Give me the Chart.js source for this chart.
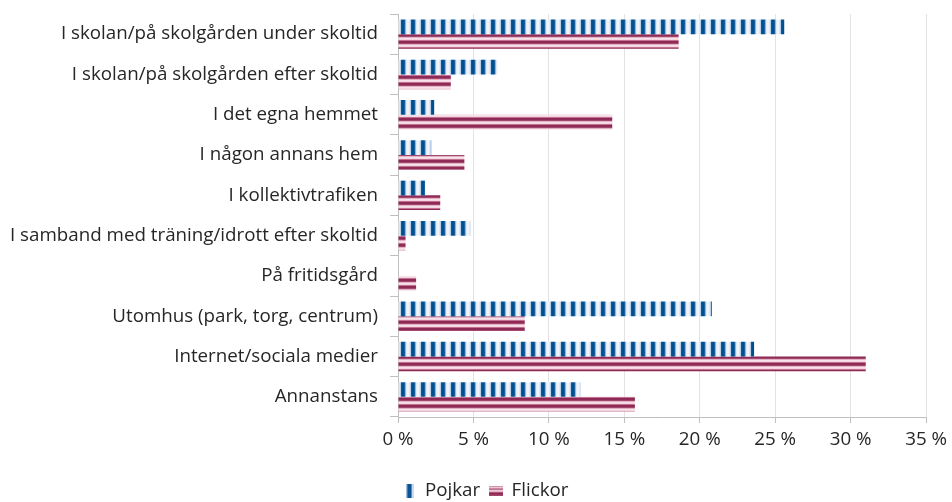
<!DOCTYPE html>
<html>
<head>
<meta charset="utf-8">
<script src="https://cdn.jsdelivr.net/npm/chart.js@4"></script>
<style>
  body { margin: 0; background: #fff; }
</style>
</head>
<body>
<canvas id="chartPlatser" width="952" height="502"></canvas>
<script>
const categories = [
    'I skolan/på skolgården under skoltid',
    'I skolan/på skolgården efter skoltid',
    'I det egna hemmet',
    'I någon annans hem',
    'I kollektivtrafiken',
    'I samband med träning/idrott efter skoltid',
    'På fritidsgård',
    'Utomhus (park, torg, centrum)',
    'Internet/sociala medier',
    'Annanstans'
];
const pojkar = [25.6, 6.6, 2.4, 2.2, 1.8, 4.8, 0, 20.8, 23.6, 12.1];
const flickor = [18.6, 3.5, 14.2, 4.4, 2.8, 0.5, 1.2, 8.4, 31.0, 15.7];
const seriesNames = ['Pojkar', 'Flickor'];

// small canvases used as fill patterns
const makeCanvas = (w, h, draw) => {
    const c = document.createElement('canvas');
    c.width = w;
    c.height = h;
    draw(c.getContext('2d'));
    return c;
};

const blueCols = ['#b9d0e8', '#0d5798', '#00508f', '#00508f', '#1c62a0', '#8fb2d6', '#e1ebf6', '#eef4fa', '#eef4fa', '#dde8f4'];
const pinkRows = ['#8e2a55', '#a2476d', '#e2b0c3', '#f6e2ea', '#f3d6e1', '#c27090', '#8e2a55'];

const blueTile = makeCanvas(blueCols.length, 4, ctx => {
    blueCols.forEach((c, i) => { ctx.fillStyle = c; ctx.fillRect(i, 0, 1, 4); });
});
const pinkTile = makeCanvas(4, pinkRows.length, ctx => {
    pinkRows.forEach((c, i) => { ctx.fillStyle = c; ctx.fillRect(0, i, 4, 1); });
});

const context = document.getElementById('chartPlatser').getContext('2d');
const bluePattern = context.createPattern(blueTile, 'repeat');
const pinkPattern = context.createPattern(pinkTile, 'repeat');

// legend markers
const blueMarker = makeCanvas(8, 14, ctx => {
    ctx.fillStyle = '#c9dbee'; ctx.fillRect(0, 0, 8, 14);
    ctx.fillStyle = '#6f9cc9'; ctx.fillRect(1, 0, 1, 14);
    ctx.fillStyle = '#0b5394'; ctx.fillRect(2, 0, 4, 14);
});
const pinkMarker = makeCanvas(14, 10, ctx => {
    const rows = ['#c27090', '#f3d6e1', '#e2b0c3', '#a2476d', '#e8bccc', '#f6e2ea', '#c27090', '#8e2a55', '#8e2a55', '#a2476d'];
    rows.forEach((c, i) => { ctx.fillStyle = c; ctx.fillRect(0, i, 14, 1); });
});

const font = { family: '"Open Sans", Lato, sans-serif', size: 18.75 };

// nudge the legend to where it sits in the original
const legendOffset = {
    id: 'legendOffset',
    afterLayout(chart) {
        const l = chart.legend;
        l.left += 22; l.right += 22;
        l.top += 8; l.bottom += 8;
    }
};

new Chart(context, {
    type: 'bar',
    data: {
        labels: categories,
        datasets: [
            {
                label: seriesNames[0],
                data: pojkar,
                backgroundColor: bluePattern,
                pointStyle: blueMarker,
                borderWidth: 0
            },
            {
                label: seriesNames[1],
                data: flickor,
                backgroundColor: pinkPattern,
                pointStyle: pinkMarker,
                borderWidth: 0
            }
        ]
    },
    options: {
        indexAxis: 'y',
        responsive: false,
        animation: false,
        layout: { padding: { top: 14, right: 24, bottom: 0, left: 0 } },
        datasets: {
            bar: { barPercentage: 1, categoryPercentage: 0.73 }
        },
        scales: {
            x: {
                min: 0,
                max: 35,
                ticks: {
                    stepSize: 5,
                    color: '#262626',
                    font: font,
                    padding: 5,
                    callback: v => v + ' %'
                },
                grid: { color: '#e3e3e3', tickColor: '#bfbfbf', tickLength: 6 },
                border: { color: '#bfbfbf' },
                afterFit: axis => { axis.height = 46.25; }
            },
            y: {
                ticks: { color: '#262626', font: font, padding: 12, autoSkip: false },
                grid: {
                    offset: true,
                    drawOnChartArea: false,
                    tickColor: '#bfbfbf',
                    tickLength: 8
                },
                border: { color: '#bfbfbf' },
                afterFit: axis => {
                    axis.width = 398;
                    axis.paddingTop = 0;
                    axis.paddingBottom = 0;
                }
            }
        },
        plugins: {
            legend: {
                position: 'bottom',
                labels: {
                    usePointStyle: true,
                    pointStyleWidth: 12,
                    color: '#262626',
                    font: font,
                    padding: 10
                }
            },
            tooltip: { enabled: false }
        }
    },
    plugins: [legendOffset]
});
</script>
</body>
</html>
